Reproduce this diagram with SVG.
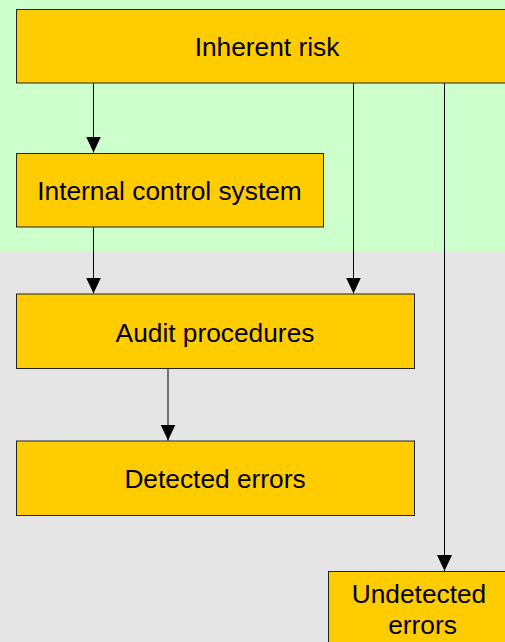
<svg xmlns="http://www.w3.org/2000/svg" width="505" height="642" viewBox="0 0 505 642">
  <defs>
    <marker id="arrow" viewBox="0 0 16 15" refX="16" refY="7.5" markerWidth="16" markerHeight="15" markerUnits="userSpaceOnUse" orient="auto">
      <path d="M0,0 L16,7.5 L0,15 Z" fill="#000"/>
    </marker>
  </defs>
  <style>
    .box { fill: #FFCC00; stroke: #222; stroke-width: 1; }
    .lbl { font-family: "Liberation Sans", Arial, sans-serif; font-size: 26.3px; fill: #000; text-anchor: middle; }
    .conn line { stroke: #000; stroke-width: 1; marker-end: url(#arrow); }
  </style>
  <!-- zone backgrounds -->
  <rect x="0" y="0" width="505" height="251" fill="#CCFFCC"/>
  <rect x="0" y="251" width="505" height="391" fill="#E5E5E5"/>

  <g id="connectors" class="conn">
    <line x1="93.5" y1="83" x2="93.5" y2="152.5"/>
    <line x1="93.5" y1="227" x2="93.5" y2="293.5"/>
    <line x1="353.5" y1="83" x2="353.5" y2="293.5"/>
    <line x1="444.5" y1="83" x2="444.5" y2="571"/>
    <line x1="168" y1="368" x2="168" y2="440.5"/>
  </g>

  <g id="inherent-risk">
    <rect class="box" x="16.5" y="9.5" width="510" height="73.5"/>
    <text class="lbl" x="267" y="56">Inherent risk</text>
  </g>
  <g id="internal-control">
    <rect class="box" x="16.5" y="153.5" width="307" height="73.5"/>
    <text class="lbl" x="169.5" y="200">Internal control system</text>
  </g>
  <g id="audit-procedures">
    <rect class="box" x="16.5" y="294" width="398" height="74.5"/>
    <text class="lbl" x="215" y="341.5">Audit procedures</text>
  </g>
  <g id="detected-errors">
    <rect class="box" x="16.5" y="441" width="398" height="74.5"/>
    <text class="lbl" x="215" y="488">Detected errors</text>
  </g>
  <g id="undetected-errors">
    <rect class="box" x="328.5" y="571.5" width="190" height="90"/>
    <text class="lbl" x="419" y="602.5">Undetected</text>
    <text class="lbl" x="422.5" y="634">errors</text>
  </g>
</svg>
